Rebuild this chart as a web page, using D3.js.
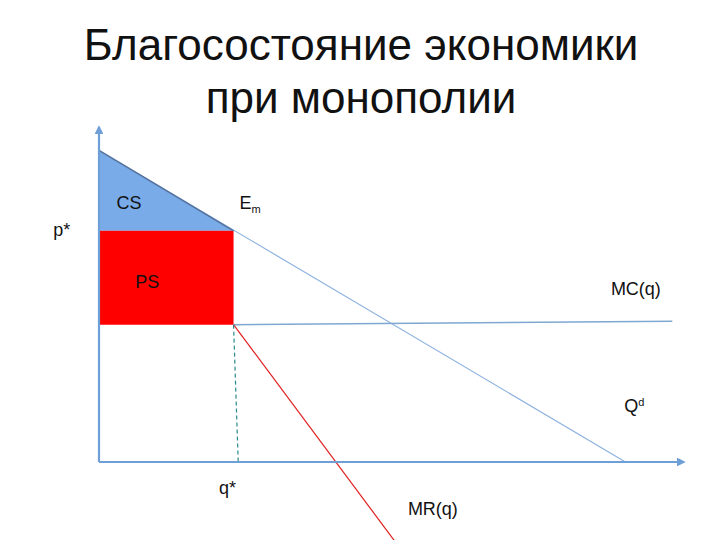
<!DOCTYPE html>
<meta charset="utf-8">
<style>
    body { margin: 0; background: #fff; }
    svg { display: block; font-family: "Liberation Sans", Arial, sans-serif; }
</style>
<script src="https://d3js.org/d3.v7.min.js"></script>
<svg id="chart" width="720" height="540"></svg>
<script>

// Data (economic units)
var titleLines = ['Благосостояние экономики', 'при монополии'];
var demand = [[0, 93], [90, 0]];             // Qd
var pStar = 69, qStar = 23;
var mcLine = [[23, 41], [98, 42]];           // MC(q)
var mrLine = [[23, 41], [50.5, -23.5]];      // MR(q)
var qStarLine = [[23, 41], [23.8, 0]];
var csArea = [[0, 93], [23, 69], [0, 69]];
var psArea = [[0, 69], [23, 69], [23, 41], [0, 41]];

var svg = d3.select('#chart');

var x = d3.scaleLinear().domain([0, 100]).range([99, 684]);
var y = d3.scaleLinear().domain([0, 100]).range([462, 127]);

var line = d3.line().x(function (d) { return x(d[0]); }).y(function (d) { return y(d[1]); });

// Title
svg.selectAll('text.title')
    .data(titleLines)
    .enter().append('text')
    .attr('class', 'title')
    .attr('x', 361)
    .attr('y', function (d, i) { return 60 + i * 53; })
    .attr('text-anchor', 'middle')
    .attr('font-size', 44)
    .attr('fill', '#111')
    .text(function (d) { return d; });

// Areas
svg.append('path').attr('d', line(csArea) + 'Z').attr('fill', '#79abe8');
svg.append('path').attr('d', line(psArea) + 'Z').attr('fill', '#ff0000');

// Lines
svg.append('path').attr('d', line(demand)).attr('fill', 'none')
    .attr('stroke', '#8fb3e0').attr('stroke-width', 1.2);
svg.append('path').attr('d', line([demand[0], [qStar, pStar]])).attr('fill', 'none')
    .attr('stroke', '#55729c').attr('stroke-width', 1.5);
svg.append('path').attr('d', line(mcLine)).attr('fill', 'none')
    .attr('stroke', '#7ea8d0').attr('stroke-width', 1.5);
svg.append('path').attr('d', line(mrLine)).attr('fill', 'none')
    .attr('stroke', '#e02020').attr('stroke-width', 1.2);
svg.append('path').attr('d', line(qStarLine)).attr('fill', 'none')
    .attr('stroke', '#2a8a8a').attr('stroke-width', 1.2).attr('stroke-dasharray', '4,3');

// Axes with arrows
svg.append('defs').append('marker')
    .attr('id', 'arrow').attr('viewBox', '0 0 10 10')
    .attr('refX', 8).attr('refY', 5)
    .attr('markerWidth', 4).attr('markerHeight', 4)
    .attr('orient', 'auto')
    .append('path').attr('d', 'M0,0 L10,5 L0,10 Z').attr('fill', '#6e9fd6');

svg.append('path').attr('d', line([[0, 0], [0, 100]])).attr('fill', 'none')
    .attr('stroke', '#6e9fd6').attr('stroke-width', 2.2).attr('marker-end', 'url(#arrow)');
svg.append('path').attr('d', line([[0, 0], [100, 0]])).attr('fill', 'none')
    .attr('stroke', '#6e9fd6').attr('stroke-width', 2.2).attr('marker-end', 'url(#arrow)');

// Labels
var labels = [
    { t: 'CS', at: [3, 75.5] },
    { t: 'E', sub: 'm', at: [24, 75.5] },
    { t: 'p*', at: [-7.8, 67.5] },
    { t: 'PS', at: [6.2, 52] },
    { t: 'MC(q)', at: [87.5, 50] },
    { t: 'Q', sup: 'd', at: [89.8, 15] },
    { t: 'q*', at: [20.5, -9.5] },
    { t: 'MR(q)', at: [52.8, -15.7] }
];

labels.forEach(function (l) {
    var tx = svg.append('text')
        .attr('x', x(l.at[0])).attr('y', y(l.at[1]))
        .attr('font-size', 18).attr('fill', '#111')
        .text(l.t);
    if (l.sub) tx.append('tspan').attr('font-size', 11).attr('dy', 4).text(l.sub);
    if (l.sup) tx.append('tspan').attr('font-size', 11).attr('dy', -6).text(l.sup);
});

</script>
